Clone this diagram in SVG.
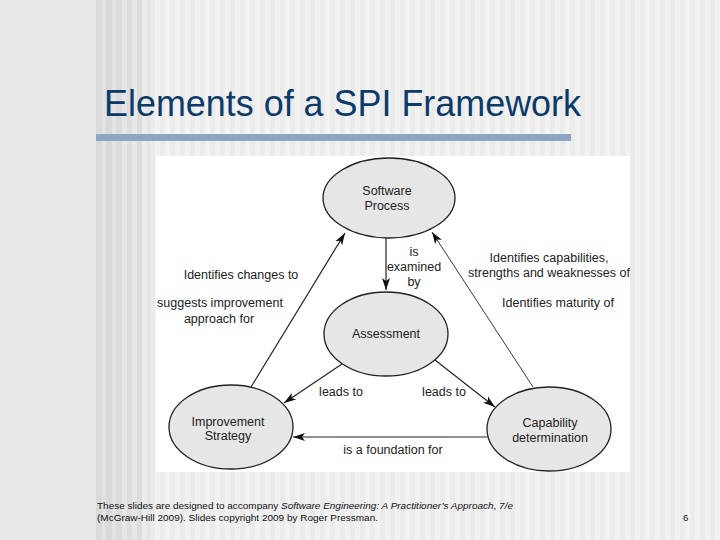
<svg xmlns="http://www.w3.org/2000/svg" width="720" height="540" viewBox="0 0 720 540">
<defs>
<pattern id="stripes" x="0" y="0" width="10" height="10" patternUnits="userSpaceOnUse">
<rect width="10" height="10" fill="#f2f2f2"/>
<rect x="0" width="5" height="10" fill="#ebebeb"/>
</pattern>
<marker id="arr" viewBox="0 -5 13 10" refX="12" refY="0" markerWidth="13" markerHeight="10" markerUnits="userSpaceOnUse" orient="auto">
<path d="M0,-4 L12,0 L0,4 L3,0 Z" fill="#111"/>
</marker>
<style>
.lbl{font-family:"Liberation Sans",Arial,sans-serif;font-size:12.5px;fill:#222;text-anchor:middle}
.node ellipse{fill:#e6e6e6;stroke:#222;stroke-width:1.3}
.con{stroke:#222;stroke-width:1.2;fill:none;marker-end:url(#arr)}
.foot{font-family:"Liberation Sans",Arial,sans-serif;font-size:9.5px;fill:#111}
</style>
</defs>
<!-- background -->
<rect width="720" height="540" fill="#e9e9e9"/>
<rect x="96" width="624" height="540" fill="url(#stripes)"/>
<g>
<rect x="96" y="0" width="6" height="540" fill="#dadada"/>
<rect x="102" y="0" width="4" height="540" fill="#e2e2e2"/>
<rect x="106" y="0" width="6" height="540" fill="#d9d9d9"/>
<rect x="112" y="0" width="4" height="540" fill="#e4e4e4"/>
<rect x="116" y="0" width="6" height="540" fill="#dcdcdc"/>
<rect x="122" y="0" width="5" height="540" fill="#e6e6e6"/>
<rect x="127" y="0" width="5" height="540" fill="#dedede"/>
<rect x="132" y="0" width="5" height="540" fill="#e8e8e8"/>
<rect x="137" y="0" width="5" height="540" fill="#dddddd"/>
<rect x="142" y="0" width="5" height="540" fill="#ececec"/>
<rect x="147" y="0" width="3" height="540" fill="#e6e6e6"/>
</g>
<!-- title -->
<text x="104" y="116" font-family="Liberation Sans, Arial, sans-serif" font-size="36" fill="#0d3b69" textLength="477" lengthAdjust="spacingAndGlyphs">Elements of a SPI Framework</text>
<rect x="96" y="134" width="475" height="7" fill="#8ea6c2"/>
<!-- diagram panel -->
<rect x="156" y="156" width="474" height="316" fill="#ffffff"/>
<g id="connectors">
<path class="con" d="M386,238 L386,290"/>
<path class="con" d="M251,387 L345,233"/>
<path class="con" d="M533,387 L432,232" style="stroke-width:0.9"/>
<path class="con" d="M342,364 L284,403"/>
<path class="con" d="M435,360 L495,407"/>
<path class="con" d="M487,437 L293,437" style="stroke-width:1"/>
</g>
<g id="edge-labels">
<text class="lbl" x="414" y="256">is</text>
<text class="lbl" x="414" y="271">examined</text>
<text class="lbl" x="414" y="286">by</text>
<text class="lbl" x="241" y="279">Identifies changes to</text>
<text class="lbl" x="220" y="307">suggests improvement</text>
<text class="lbl" x="219" y="323">approach for</text>
<text class="lbl" x="549" y="262">Identifies capabilities,</text>
<text class="lbl" x="549" y="277">strengths and weaknesses of</text>
<text class="lbl" x="558" y="307">Identifies maturity of</text>
<text class="lbl" x="341" y="396">leads to</text>
<text class="lbl" x="444" y="396">leads to</text>
<text class="lbl" x="393" y="454">is a foundation for</text>
</g>
<g id="software-process" class="node">
<ellipse cx="389" cy="198" rx="66" ry="40"/>
<text class="lbl" x="387" y="195">Software</text>
<text class="lbl" x="387" y="210">Process</text>
</g>
<g id="assessment" class="node">
<ellipse cx="386" cy="334" rx="62" ry="42"/>
<text class="lbl" x="386" y="338">Assessment</text>
</g>
<g id="improvement-strategy" class="node">
<ellipse cx="231" cy="427" rx="62" ry="42"/>
<text class="lbl" x="228" y="426">Improvement</text>
<text class="lbl" x="228" y="440">Strategy</text>
</g>
<g id="capability-determination" class="node">
<ellipse cx="549" cy="429" rx="62" ry="42"/>
<text class="lbl" x="550" y="427">Capability</text>
<text class="lbl" x="550" y="442">determination</text>
</g>
<!-- footer -->
<text class="foot" x="97" y="509" textLength="416" lengthAdjust="spacingAndGlyphs">These slides are designed to accompany <tspan font-style="italic">Software Engineering: A Practitioner’s Approach</tspan>, <tspan font-style="italic">7/e</tspan></text>
<text class="foot" x="97" y="521" textLength="281" lengthAdjust="spacingAndGlyphs">(McGraw-Hill 2009). Slides copyright 2009 by Roger Pressman.</text>
<text class="foot" x="683" y="521">6</text>
</svg>
